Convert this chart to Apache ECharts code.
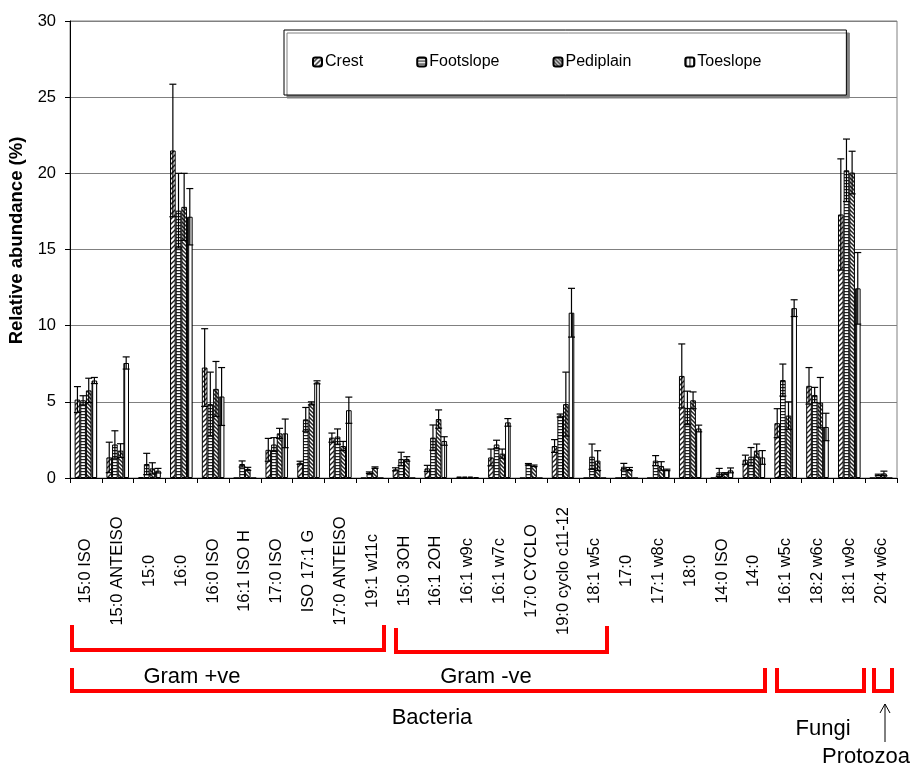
<!DOCTYPE html>
<html>
<head>
<meta charset="utf-8">
<script src="https://cdn.jsdelivr.net/npm/echarts@6/dist/echarts.min.js"></script>
<style>
  html, body { margin: 0; padding: 0; background: #fff; }
  #chart { width: 916px; height: 767px; }
</style>
</head>
<body>
<div id="chart"></div>
<script>
// PLFA markers (x categories)
const categories = ['15:0 ISO', '15:0 ANTEISO', '15:0', '16:0', '16:0 ISO', '16:1 ISO H', '17:0 ISO',
  'ISO 17:1 G', '17:0 ANTEISO', '19:1 w11c', '15:0 3OH', '16:1 2OH', '16:1 w9c', '16:1 w7c',
  '17:0 CYCLO', '19:0 cyclo c11-12', '18:1 w5c', '17:0', '17:1 w8c', '18:0', '14:0 ISO', '14:0',
  '16:1 w5c', '18:2 w6c', '18:1 w9c', '20:4 w6c'];

// Mean relative abundance (%) per landscape position
const crest     = [5.15, 1.35, 0.05, 21.5, 7.25, 0, 1.85, 1.0, 2.65, 0, 0.57, 0.63, 0.1, 1.35, 0, 2.1, 0, 0, 0, 6.7, 0, 1.2, 3.6, 6.05, 17.3, 0];
const footslope = [5.1, 2.2, 0.92, 17.55, 4.85, 0.92, 2.2, 3.85, 2.72, 0.35, 1.25, 2.65, 0.1, 2.2, 0.9, 4.1, 1.4, 0.74, 1.14, 4.6, 0.37, 1.4, 6.43, 5.45, 20.2, 0.2];
const pediplain = [5.75, 1.8, 0.63, 17.8, 5.85, 0.6, 2.93, 4.9, 2.1, 0.68, 1.25, 3.87, 0.1, 1.6, 0.8, 4.85, 1.14, 0.59, 0.79, 5.1, 0.3, 1.8, 4.1, 4.95, 20.05, 0.3];
const toeslope  = [6.4, 7.55, 0.48, 17.15, 5.35, 0, 2.93, 6.28, 4.45, 0, 0, 2.43, 0.05, 3.65, 0, 10.85, 0, 0, 0.53, 3.25, 0.5, 1.35, 11.15, 3.35, 12.45, 0];

// Standard errors (plus / minus)
const crestErr     = [0.85, 1.0, 0, 4.35, 2.55, 0, 0.75, 0.1, 0.3, 0, 0.1, 0.2, 0, 0.55, 0, 0.42, 0, 0, 0, 2.1, 0, 0.3, 0.95, 1.2, 3.65, 0];
const footslopeErr = [0.3, 0.9, 0.7, 2.45, 2.1, 0.2, 0.45, 0.78, 0.5, 0.05, 0.44, 0.83, 0, 0.28, 0.05, 0.1, 0.83, 0.22, 0.33, 1.1, 0.26, 0.6, 1.05, 0.5, 2.05, 0.05];
const pediplainErr = [0.8, 0.45, 0.37, 2.2, 1.8, 0.1, 0.33, 0.1, 0.3, 0.05, 0.15, 0.6, 0, 0.3, 0.05, 2.1, 0.65, 0.1, 0.28, 0.55, 0.05, 0.43, 0.9, 1.65, 1.4, 0.15];
const toeslopeErr  = [0.2, 0.4, 0.15, 1.85, 1.9, 0, 0.94, 0.1, 0.86, 0, 0, 0.28, 0, 0.25, 0, 1.6, 0, 0, 0.05, 0.22, 0.16, 0.45, 0.55, 0.9, 2.35, 0];

const seriesNames = ['Crest', 'Footslope', 'Pediplain', 'Toeslope'];
const values = [crest, footslope, pediplain, toeslope];
const errors = [crestErr, footslopeErr, pediplainErr, toeslopeErr];

const yTicks = { min: 0, max: 30, interval: 5 };

// Hatch fills drawn on small tiles
function tile(w, h, draw) {
  const c = document.createElement('canvas');
  c.width = w; c.height = h;
  const g = c.getContext('2d');
  g.fillStyle = '#fff';
  g.fillRect(0, 0, w, h);
  g.strokeStyle = '#222';
  g.fillStyle = '#222';
  draw(g, w, h);
  return { image: c, repeat: 'repeat' };
}
const fills = [
  // forward diagonal
  tile(5, 5, (g, w, h) => {
    g.lineWidth = 1.4;
    g.beginPath();
    g.moveTo(-1, h + 1); g.lineTo(w + 1, -1);
    g.moveTo(-1 - w, h + 1); g.lineTo(1, -1);
    g.moveTo(w - 1, h + 1); g.lineTo(2 * w + 1, -1);
    g.stroke();
  }),
  // horizontal lines
  tile(4, 3, (g, w) => { g.fillRect(0, 0, w, 1.2); }),
  // backward diagonal
  tile(4, 4, (g, w, h) => {
    g.lineWidth = 1.5;
    g.beginPath();
    g.moveTo(-1, -1); g.lineTo(w + 1, h + 1);
    g.moveTo(-1 - w, -1); g.lineTo(1, h + 1);
    g.moveTo(w - 1, -1); g.lineTo(2 * w + 1, h + 1);
    g.stroke();
  }),
  // vertical lines
  tile(4, 4, (g, w, h) => { g.fillRect(0, 0, 1.2, h); })
];

const CAT_GAP = 0.29;           // share of each category left empty
const FONT = "'Liberation Sans', Arial, sans-serif";

const barSeries = seriesNames.map((name, k) => ({
  name: name,
  type: 'bar',
  barGap: '0%',
  barCategoryGap: (CAT_GAP * 100) + '%',
  data: values[k],
  itemStyle: { color: fills[k], borderColor: '#000', borderWidth: 1 },
  emphasis: { disabled: true },
  z: 2
}));

const errSeries = seriesNames.map((name, k) => ({
  name: name + ' SE',
  type: 'custom',
  z: 5,
  silent: true,
  data: categories.map((c, i) => [i, values[k][i], errors[k][i]]),
  encode: { x: 0, y: 1 },
  renderItem: (params, api) => {
    const i = api.value(0), v = api.value(1), e = api.value(2);
    if (!e) return null;
    const band = api.size([1, 0])[0];
    const bw = band * (1 - CAT_GAP) / 4;
    const cx = api.coord([i, 0])[0] + (k - 1.5) * bw;
    const yTop = api.coord([i, v + e])[1];
    const yBot = api.coord([i, Math.max(0, v - e)])[1];
    const hw = 3.5;
    const st = { stroke: '#000', lineWidth: 1.2 };
    return {
      type: 'group',
      children: [
        { type: 'line', shape: { x1: cx, y1: yTop, x2: cx, y2: yBot }, style: st },
        { type: 'line', shape: { x1: cx - hw, y1: yTop, x2: cx + hw, y2: yTop }, style: st },
        { type: 'line', shape: { x1: cx - hw, y1: yBot, x2: cx + hw, y2: yBot }, style: st }
      ]
    };
  }
}));

// Red group brackets and their captions under the axis
const RED = '#ff0000';
function bracket(x1, x2, yTop, yBot, yTop2) {
  return {
    type: 'polyline',
    shape: { points: [[x1, yTop], [x1, yBot], [x2, yBot], [x2, yTop2 == null ? yTop : yTop2]] },
    style: { stroke: RED, lineWidth: 4, fill: null, lineJoin: 'miter' },
    silent: true
  };
}
function caption(text, x, y) {
  return {
    type: 'text', x: x, y: y, silent: true,
    style: { text: text, font: '22px ' + FONT, fill: '#000', align: 'center', verticalAlign: 'middle' }
  };
}

const chart = echarts.init(document.getElementById('chart'), null, { renderer: 'canvas' });
chart.setOption({
  backgroundColor: '#fff',
  animation: false,
  textStyle: { fontFamily: FONT },
  grid: {
    left: 70, right: 19, top: 21, bottom: 289,
    outerBoundsMode: 'none', containLabel: false,
    show: true, borderColor: '#808080', borderWidth: 1, backgroundColor: 'transparent'
  },
  legend: {
    data: seriesNames,
    left: 284, top: 30,
    orient: 'horizontal',
    padding: [24, 85, 25, 28],
    itemWidth: 9, itemHeight: 9, itemGap: 53,
    backgroundColor: '#fff',
    borderColor: '#000', borderWidth: 1,
    shadowColor: '#808080', shadowOffsetX: 3, shadowOffsetY: 3, shadowBlur: 0,
    selectedMode: false,
    textStyle: { fontSize: 16, color: '#000', fontFamily: FONT, padding: [0, 0, 0, -2] }
  },
  xAxis: {
    type: 'category',
    data: categories,
    axisLine: { lineStyle: { color: '#000', width: 1 } },
    axisTick: { show: true, length: 5, interval: 0, lineStyle: { color: '#000' } },
    axisLabel: {
      interval: 0, rotate: 90, margin: 93,
      align: 'center', verticalAlign: 'middle',
      fontSize: 16.5, color: '#000', fontFamily: FONT
    },
    splitLine: { show: false }
  },
  yAxis: {
    type: 'value',
    min: yTicks.min, max: yTicks.max, interval: yTicks.interval,
    name: 'Relative abundance (%)',
    nameLocation: 'middle', nameRotate: 90, nameGap: 44,
    nameTextStyle: { fontSize: 18.5, fontWeight: 'bold', color: '#000', fontFamily: FONT, padding: [0, 0, 0, 18] },
    axisLine: { show: true, lineStyle: { color: '#000', width: 1 } },
    axisTick: { show: true, length: 5, lineStyle: { color: '#000' } },
    axisLabel: { fontSize: 16.5, color: '#000', margin: 14, fontFamily: FONT },
    splitLine: { show: true, lineStyle: { color: '#808080', width: 1.2 } }
  },
  series: barSeries.concat(errSeries),
  graphic: [
    bracket(72, 384, 625, 650),
    bracket(396, 607, 628, 652, 626),
    bracket(72, 765, 668, 691),
    bracket(777, 864, 668, 691),
    bracket(874, 892, 668, 691),
    caption('Gram +ve', 192, 677),
    caption('Gram -ve', 486, 677),
    caption('Bacteria', 432, 718),
    caption('Fungi', 823, 729),
    caption('Protozoa', 866, 757),
    {
      type: 'line', silent: true,
      shape: { x1: 885, y1: 742, x2: 885, y2: 704 },
      style: { stroke: '#000', lineWidth: 1 }
    },
    {
      type: 'polyline', silent: true,
      shape: { points: [[880, 713], [885, 704], [890, 713]] },
      style: { stroke: '#000', lineWidth: 1, fill: null }
    }
  ]
});
</script>
</body>
</html>
